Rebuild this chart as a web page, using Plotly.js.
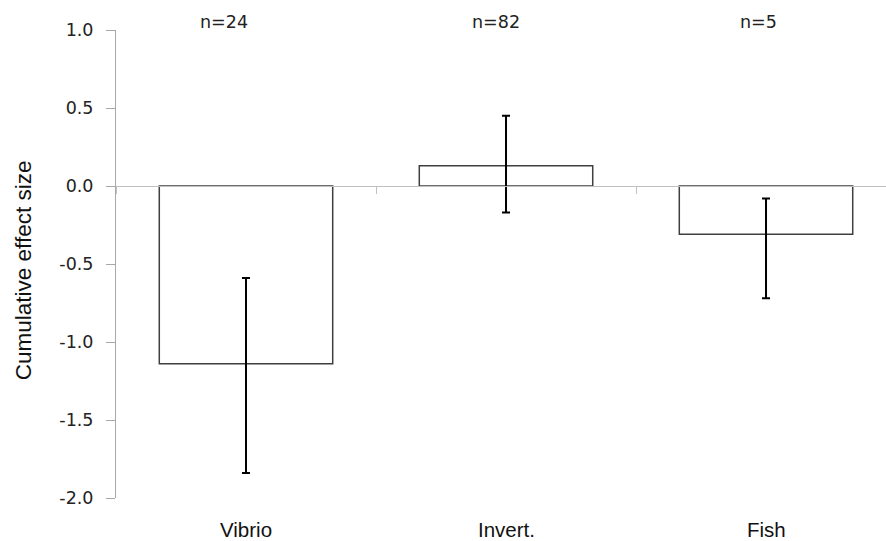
<!DOCTYPE html>
<html>
<head>
<meta charset="utf-8">
<script src="https://cdn.plot.ly/plotly-3.0.1.min.js"></script>
<style>html,body{margin:0;padding:0;background:#fff;}#chart{width:886px;height:541px;}</style>
</head>
<body>
<div id="chart"></div>
<script>
// Data
const categories = ['Vibrio', 'Invert.', 'Fish'];
const effectSize = [-1.14, 0.13, -0.31];
const ciUpper = [-0.59, 0.45, -0.08];
const ciLower = [-1.84, -0.17, -0.72];
const sampleLabels = ['n=24', 'n=82', 'n=5'];
const yTickVals = [-2.0, -1.5, -1.0, -0.5, 0.0, 0.5, 1.0];
const yTickText = ['-2.0', '-1.5', '-1.0', '-0.5', '0.0', '0.5', '1.0'];
const yTitle = 'Cumulative effect size';

const errPlus = effectSize.map((v, i) => ciUpper[i] - v);
const errMinus = effectSize.map((v, i) => v - ciLower[i]);

const trace = {
  type: 'bar',
  x: categories,
  y: effectSize,
  width: 0.667,
  marker: {color: '#ffffff', line: {color: '#3f3f3f', width: 1.5}},
  error_y: {
    type: 'data', symmetric: false,
    array: errPlus, arrayminus: errMinus,
    color: '#000000', thickness: 2, width: 4
  },
  hoverinfo: 'none'
};

const nShift = [-22, -10, -8];
const annotations = [];
categories.forEach((c, i) => {
  annotations.push({
    x: c, xref: 'x', y: 1, yref: 'paper', yanchor: 'middle', yshift: 8,
    xshift: nShift[i], text: sampleLabels[i], showarrow: false,
    font: {family: 'DejaVu Sans', size: 17.5, color: '#222'}
  });
  annotations.push({
    x: c, xref: 'x', y: 0, yref: 'paper', yanchor: 'middle', yshift: -31,
    text: c, showarrow: false, borderpad: 0,
    font: {family: 'Liberation Sans, Arial', size: 20.5, color: '#111'}
  });
});
annotations.push({
  x: 0, xref: 'paper', xshift: -93, xanchor: 'center',
  y: 0.4867, yref: 'paper', yanchor: 'middle',
  text: yTitle, textangle: -90, showarrow: false,
  font: {family: 'Liberation Sans, Arial', size: 22.5, color: '#111'}
});

const layout = {
  width: 886, height: 541,
  margin: {l: 116, r: 0, t: 29.5, b: 43, pad: 0},
  paper_bgcolor: '#fff', plot_bgcolor: '#fff',
  showlegend: false,
  xaxis: {
    type: 'category',
    range: [-0.5, 2.4615],
    anchor: 'free', position: 2/3,
    showline: true, linecolor: '#c0c0c0', linewidth: 1,
    ticks: 'outside', tickson: 'boundaries', ticklen: 7, tickcolor: '#c0c0c0', tickwidth: 1,
    showticklabels: false, showgrid: false, zeroline: false, fixedrange: true
  },
  yaxis: {
    range: [-2, 1],
    tickvals: yTickVals, ticktext: yTickText,
    showline: true, linecolor: '#a8a8a8', linewidth: 1,
    ticks: 'outside', ticklen: 9, tickcolor: '#a8a8a8', tickwidth: 1,
    showgrid: false, zeroline: false,
    tickfont: {family: 'DejaVu Sans', size: 17.5, color: '#222'},
    ticklabelstandoff: 9,
    fixedrange: true
  },
  annotations: annotations
};

Plotly.newPlot('chart', [trace], layout, {displayModeBar: false, staticPlot: true});
</script>
</body>
</html>
